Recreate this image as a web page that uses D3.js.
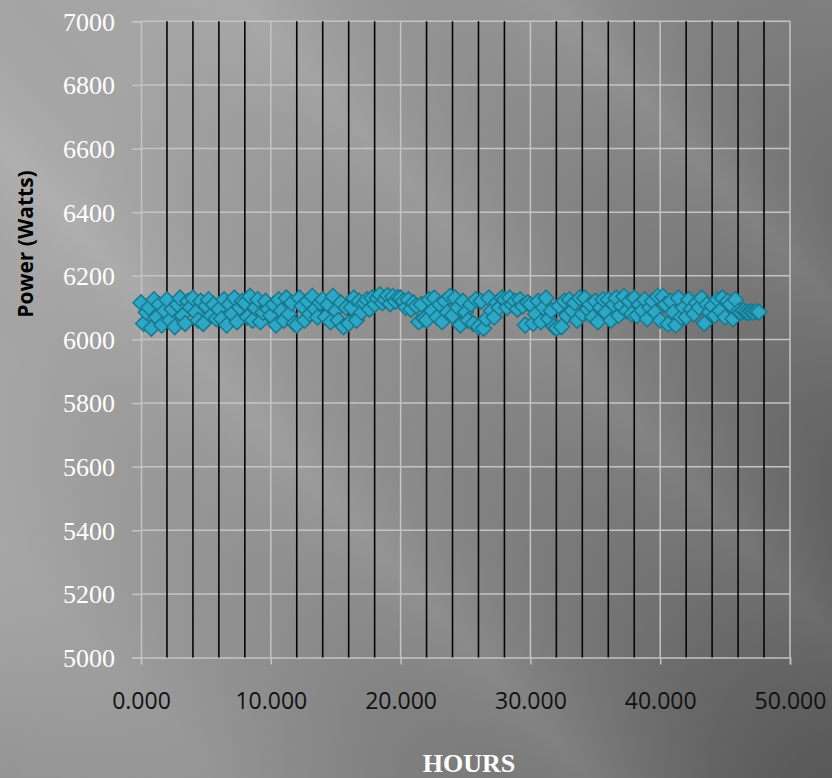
<!DOCTYPE html>
<html>
<head>
<meta charset="utf-8">
<script src="https://cdn.jsdelivr.net/npm/d3@7"></script>
<style>
  html, body { margin: 0; padding: 0; background: #777; }
  svg { display: block; }
  .ylab { font-family: "Liberation Serif", "Times New Roman", serif; font-size: 26px; font-weight: 400; }
  .xlab { font-family: "Open Sans", sans-serif; font-size: 23px; }
</style>
</head>
<body>
<div id="chart"></div>
<script>
// Sample times (hours) of the power log, one reading every 12 minutes
const hours = [
  0, 0.2, 0.4, 0.6, 0.8, 1, 1.2, 1.4, 1.6, 1.8,
  2, 2.2, 2.4, 2.6, 2.8, 3, 3.2, 3.4, 3.6, 3.8,
  4, 4.2, 4.4, 4.6, 4.8, 5, 5.2, 5.4, 5.6, 5.8,
  6, 6.2, 6.4, 6.6, 6.8, 7, 7.2, 7.4, 7.6, 7.8,
  8, 8.2, 8.4, 8.6, 8.8, 9, 9.2, 9.4, 9.6, 9.8,
  10, 10.2, 10.4, 10.6, 10.8, 11, 11.2, 11.4, 11.6, 11.8,
  12, 12.2, 12.4, 12.6, 12.8, 13, 13.2, 13.4, 13.6, 13.8,
  14, 14.2, 14.4, 14.6, 14.8, 15, 15.2, 15.4, 15.6, 15.8,
  16, 16.2, 16.4, 16.6, 16.8, 17, 17.2, 17.4, 17.6, 17.8,
  18, 18.2, 18.4, 18.6, 18.8, 19, 19.2, 19.4, 19.6, 19.8,
  20, 20.2, 20.4, 20.6, 20.8, 21, 21.2, 21.4, 21.6, 21.8,
  22, 22.2, 22.4, 22.6, 22.8, 23, 23.2, 23.4, 23.6, 23.8,
  24, 24.2, 24.4, 24.6, 24.8, 25, 25.2, 25.4, 25.6, 25.8,
  26, 26.2, 26.4, 26.6, 26.8, 27, 27.2, 27.4, 27.6, 27.8,
  28, 28.2, 28.4, 28.6, 28.8, 29, 29.2, 29.4, 29.6, 29.8,
  30, 30.2, 30.4, 30.6, 30.8, 31, 31.2, 31.4, 31.6, 31.8,
  32, 32.2, 32.4, 32.6, 32.8, 33, 33.2, 33.4, 33.6, 33.8,
  34, 34.2, 34.4, 34.6, 34.8, 35, 35.2, 35.4, 35.6, 35.8,
  36, 36.2, 36.4, 36.6, 36.8, 37, 37.2, 37.4, 37.6, 37.8,
  38, 38.2, 38.4, 38.6, 38.8, 39, 39.2, 39.4, 39.6, 39.8,
  40, 40.2, 40.4, 40.6, 40.8, 41, 41.2, 41.4, 41.6, 41.8,
  42, 42.2, 42.4, 42.6, 42.8, 43, 43.2, 43.4, 43.6, 43.8,
  44, 44.2, 44.4, 44.6, 44.8, 45, 45.2, 45.4, 45.6, 45.8,
  46, 46.2, 46.4, 46.6, 46.8, 47, 47.2, 47.4, 47.6
];

// Measured power (Watts) at each sample time
const powerWatts = [
  6115, 6050, 6085, 6100, 6035, 6125, 6070, 6110, 6045, 6090,
  6125, 6060, 6095, 6040, 6110, 6130, 6075, 6050, 6120, 6100,
  6130, 6085, 6060, 6120, 6050, 6105, 6125, 6075, 6110, 6065,
  6095, 6065, 6125, 6045, 6110, 6080, 6130, 6055, 6100, 6120,
  6115, 6070, 6135, 6060, 6100, 6125, 6055, 6085, 6120, 6095,
  6075, 6110, 6045, 6125, 6090, 6060, 6130, 6080, 6115, 6050,
  6045, 6130, 6105, 6060, 6120, 6080, 6135, 6095, 6070, 6115,
  6125, 6070, 6110, 6055, 6135, 6090, 6060, 6115, 6040, 6100,
  6050, 6100, 6130, 6060, 6120, 6085, 6115, 6125, 6095, 6130,
  6110, 6130, 6140, 6115, 6125, 6138, 6112, 6135, 6120, 6132,
  6130, 6120, 6100, 6125, 6095, 6115, 6105, 6055, 6110, 6065,
  6060, 6125, 6090, 6130, 6070, 6110, 6055, 6120, 6085, 6135,
  6075, 6130, 6100, 6045, 6120, 6085, 6060, 6110, 6050, 6125,
  6040, 6120, 6035, 6065, 6130, 6090, 6070, 6115, 6100, 6130,
  6125, 6100, 6130, 6110, 6120, 6095, 6125, 6105, 6045, 6115,
  6110, 6050, 6080, 6120, 6055, 6100, 6130, 6065, 6090, 6040,
  6035, 6105, 6040, 6120, 6075, 6125, 6090, 6115, 6060, 6130,
  6080, 6130, 6095, 6110, 6070, 6120, 6055, 6100, 6125, 6085,
  6125, 6060, 6110, 6130, 6075, 6105, 6135, 6090, 6120, 6080,
  6130, 6075, 6110, 6090, 6125, 6065, 6100, 6120, 6085, 6135,
  6060, 6135, 6110, 6048, 6120, 6085, 6045, 6130, 6070, 6100,
  6070, 6125, 6095, 6080, 6115, 6100, 6130, 6050, 6110, 6085,
  6105, 6075, 6125, 6090, 6130, 6070, 6120, 6110, 6065, 6125,
  6088, 6085, 6090, 6086, 6084, 6087, 6085, 6088, 6086
];

// Two-hourly reference markers drawn as vertical rules
const markerHours = [2, 4, 6, 8, 12, 14, 16, 18, 22, 24, 26, 28, 32, 34, 36, 38, 42, 44, 46, 48];

// Axis ticks
const xTicks = [0, 10, 20, 30, 40, 50];
const yTicks = [5000, 5200, 5400, 5600, 5800, 6000, 6200, 6400, 6600, 6800, 7000];

const W = 832, H = 778;
const plot = { left: 141, right: 790, top: 21.3, bottom: 657.5 };

const svg = d3.select("#chart").append("svg")
  .attr("width", W).attr("height", H);

// ---- slide-style background: grey shading with soft diagonal streaks ----
const defs = svg.append("defs");
const base = defs.append("linearGradient").attr("id", "bgBase")
  .attr("gradientUnits", "userSpaceOnUse")
  .attr("x1", 0).attr("y1", 380).attr("x2", 832).attr("y2", 740);
[[0, "#a8a8a8"], [0.4, "#909090"], [0.75, "#747474"], [1, "#5a5a5a"]]
  .forEach(([o, c]) => base.append("stop").attr("offset", o).attr("stop-color", c));

const streak = defs.append("linearGradient").attr("id", "bgStreak")
  .attr("gradientUnits", "userSpaceOnUse")
  .attr("x1", 0).attr("y1", 778).attr("x2", 832).attr("y2", 0);
[[0, "#000", 0.06], [0.14, "#fff", 0.04], [0.26, "#000", 0.02], [0.38, "#fff", 0.08],
 [0.5, "#000", 0.02], [0.62, "#fff", 0.07], [0.72, "#000", 0.03], [0.82, "#fff", 0.07],
 [0.9, "#000", 0.02], [1, "#fff", 0.05]]
  .forEach(([o, c, a]) => streak.append("stop").attr("offset", o)
    .attr("stop-color", c).attr("stop-opacity", a));

svg.append("rect").attr("width", W).attr("height", H).attr("fill", "url(#bgBase)");
svg.append("rect").attr("width", W).attr("height", H).attr("fill", "url(#bgStreak)");

// ---- scales ----
const x = d3.scaleLinear().domain([0, 50]).range([plot.left, plot.right]);
const y = d3.scaleLinear().domain([5000, 7000]).range([plot.bottom, plot.top]);

const gridColor = "#c4c4c4";

// horizontal gridlines
svg.append("g").selectAll("line").data(yTicks.slice(1)).join("line")
  .attr("x1", plot.left).attr("x2", plot.right)
  .attr("y1", d => y(d)).attr("y2", d => y(d))
  .attr("stroke", gridColor).attr("stroke-width", 1.5);

// vertical gridlines
svg.append("g").selectAll("line").data(xTicks.slice(1)).join("line")
  .attr("x1", d => x(d)).attr("x2", d => x(d))
  .attr("y1", plot.top).attr("y2", plot.bottom)
  .attr("stroke", gridColor).attr("stroke-width", 1.5);

// y axis
const yAxis = svg.append("g")
  .attr("transform", `translate(${plot.left},0)`)
  .call(d3.axisLeft(y).tickValues(yTicks).tickSize(9).tickPadding(17).tickFormat(d3.format("d")));
yAxis.attr("font-family", null).attr("font-size", null);
yAxis.select(".domain").attr("stroke", gridColor).attr("stroke-width", 1.5);
yAxis.selectAll(".tick line").attr("stroke", gridColor).attr("stroke-width", 1.5);
yAxis.selectAll(".tick text")
  .attr("class", "ylab")
  .attr("fill", "#ffffff")
  .attr("dy", "0.34em");

// x axis
const xAxis = svg.append("g")
  .attr("transform", `translate(0,${plot.bottom})`)
  .call(d3.axisBottom(x).tickValues(xTicks).tickSize(7).tickPadding(0).tickFormat(d3.format(".3f")));
xAxis.attr("font-family", null).attr("font-size", null);
xAxis.select(".domain").attr("stroke", gridColor).attr("stroke-width", 1.5);
xAxis.selectAll(".tick line").attr("stroke", gridColor).attr("stroke-width", 1.5);
xAxis.selectAll(".tick text")
  .attr("class", "xlab")
  .attr("fill", "#111111")
  .attr("dy", 0)
  .attr("y", 51);

// vertical marker rules
svg.append("g").selectAll("line").data(markerHours).join("line")
  .attr("x1", d => x(d)).attr("x2", d => x(d))
  .attr("y1", plot.top).attr("y2", plot.bottom)
  .attr("stroke", "#050505").attr("stroke-width", 1.6);

// power samples as diamonds
const diamond = d3.symbol().type(d3.symbolSquare).size(125)();
const samples = hours.map((h, i) => ({ h, p: powerWatts[i] }));
svg.append("g").selectAll("path").data(samples).join("path")
  .attr("d", diamond)
  .attr("transform", d => `translate(${x(d.h)},${y(d.p)}) rotate(45)`)
  .attr("fill", "#2ea7c5")
  .attr("stroke", "#17798f")
  .attr("stroke-width", 1.5);

// axis titles
svg.append("text")
  .attr("transform", "translate(33,244) rotate(-90)")
  .attr("text-anchor", "middle")
  .style("font-family", "'Open Sans', sans-serif")
  .style("font-weight", "bold")
  .style("font-size", "21px")
  .attr("fill", "#000")
  .text("Power (Watts)");

svg.append("text")
  .attr("x", 469).attr("y", 772)
  .attr("text-anchor", "middle")
  .style("font-family", "'Liberation Serif', serif")
  .style("font-weight", "bold")
  .style("font-size", "26px")
  .attr("fill", "#ffffff")
  .text("HOURS");
</script>
</body>
</html>
